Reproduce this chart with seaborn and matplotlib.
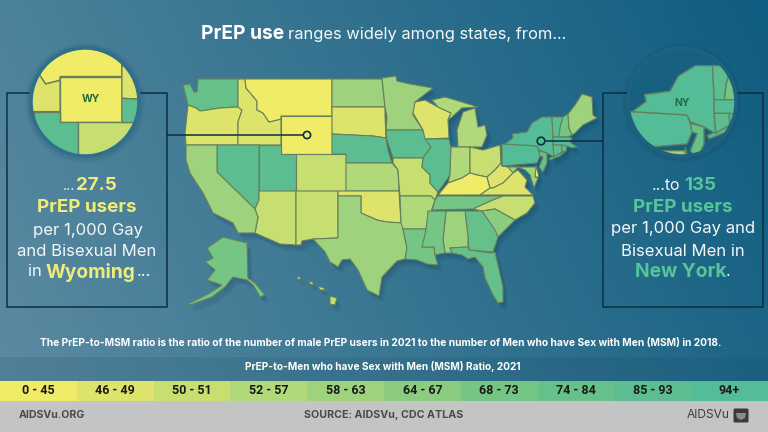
import matplotlib
matplotlib.use('Agg')
import matplotlib.pyplot as plt
import numpy as np
import seaborn as sns
from matplotlib.colors import LinearSegmentedColormap, ListedColormap
from matplotlib.patches import Circle, FancyBboxPatch, Polygon, Rectangle

sns.set_theme(style='white')
plt.rcParams['font.family'] = ['Inter', 'DejaVu Sans']

# legend bins
bin_labels = ['0 - 45', '46 - 49', '50 - 51', '52 - 57', '58 - 63', '64 - 67', '68 - 73', '74 - 84', '85 - 93', '94+']
bin_colors = ['#F1EC68', '#DDE36B', '#C7DE70', '#B1D979', '#9FD27D', '#8BCC80', '#75C585', '#66C08A', '#5CBE90', '#54BC96']

# state outlines, pixel positions
WA = [(183,85),(190,84),(194,92),(197,92),(198,79),(238,79),(238,107),(220,108),(200,111),(196,108),(188,105),(185,93)]
OR = [(188,105),(196,108),(200,111),(220,108),(238,107),(242,110),(238,122),(238,145),(186,145),(185,133)]
ID = [(238,79),(245,79),(246,88),(257,101),(257,110),(263,113),(269,122),(281,119),(281,145),(238,145),(238,122),(242,110),(238,107)]
MT = [(245,79),(332,79),(332,116),(281,116),(281,119),(269,122),(263,113),(257,110),(257,101),(246,88)]
WY = [(281,116),(332,116),(332,154),(281,154)]
NV = [(217,145),(259,145),(259,200),(255,209),(217,172)]
UT = [(259,145),(281,145),(281,154),(296,154),(296,191),(259,191)]
CO = [(296,154),(346,154),(346,191),(296,191)]
AZ = [(259,191),(296,191),(296,245),(280,244),(255,233),(258,217),(255,209),(259,200)]
NM = [(296,191),(338,191),(338,238),(313,239),(302,241),(301,245),(296,245)]
CA = [(186,145),(217,145),(217,172),(255,209),(258,217),(255,233),(238,233),(233,223),(213,213),(203,193),(190,173),(186,160)]
ND = [(332,79),(382,79),(385,107),(332,107)]
SD = [(332,107),(385,107),(385,115),(386,138),(373,136),(332,134)]
NE = [(332,134),(373,136),(386,138),(388,150),(392,163),(346,163),(346,154),(332,154)]
KS = [(346,163),(392,163),(398,170),(399,191),(346,191)]
OK = [(338,191),(399,191),(401,223),(387,222),(377,220),(361,213),(361,196),(338,196)]
TX = [(338,196),(361,196),(361,213),(377,220),(387,222),(403,223),(403,229),(407,248),(405,259),(397,261),(382,277),(379,296),(367,290),(358,270),(350,259),(342,260),(338,267),(330,262),(325,252),(313,239),(338,238)]
MN = [(382,78),(396,76),(397,81),(410,84),(433,88),(415,102),(413,115),(423,130),(386,130),(387,117),(385,107)]
IA = [(386,130),(423,130),(431,147),(423,158),(393,158),(387,140)]
MO = [(393,158),(423,158),(422,167),(430,175),(430,183),(438,192),(435,200),(431,196),(400,196),(399,185),(398,170),(393,163)]
AR = [(400,196),(431,196),(435,200),(430,215),(426,229),(403,229),(401,223)]
LA = [(403,229),(426,229),(426,240),(422,247),(434,247),(435,255),(438,265),(427,264),(417,260),(405,259),(407,248)]
WI = [(415,102),(425,100),(438,107),(451,113),(448,120),(449,138),(425,139),(423,130),(413,113)]
IL = [(425,139),(449,139),(451,148),(450,175),(443,185),(438,192),(430,183),(430,175),(422,167),(423,158),(431,147)]
MI = [(458,147),(457,130),(463,112),(475,108),(478,127),(485,125),(487,135),(482,147)]
MI_UP = [(432,100),(445,97),(462,102),(478,107),(462,108),(452,117),(448,120),(451,113),(438,107)]
IN = [(451,147),(470,147),(470,173),(462,178),(448,183),(450,175)]
OH = [(470,147),(483,150),(500,145),(501,163),(495,170),(487,177),(477,175),(470,173)]
KY = [(438,195),(448,183),(462,178),(470,173),(477,175),(487,177),(490,188),(480,195)]
WV = [(487,177),(495,170),(501,163),(502,166),(508,167),(518,167),(513,173),(503,183),(493,188),(490,188)]
VA = [(480,195),(490,188),(493,188),(503,183),(513,173),(518,170),(527,180),(525,187),(533,195)]
TN = [(438,196),(503,196),(493,200),(473,209),(432,210),(435,200)]
NC = [(503,196),(533,196),(535,203),(527,213),(515,220),(495,209),(482,211),(473,209),(493,200)]
SC = [(482,211),(495,209),(515,220),(498,237)]
GA = [(465,211),(482,211),(495,230),(498,237),(493,252),(469,250),(468,237)]
AL = [(446,211),(465,211),(468,237),(468,247),(450,248),(452,253),(445,253),(443,240)]
MS = [(428,211),(446,211),(443,240),(445,253),(435,255),(434,247),(422,247),(426,230)]
FL = [(450,248),(468,247),(469,250),(492,253),(495,252),(503,287),(503,302),(498,303),(493,295),(485,278),(483,267),(475,257),(468,259),(462,255),(452,253)]
PA = [(502,144),(505,144),(537,146),(539,151),(540,156),(537,163),(502,166)]
NY = [(505,144),(513,138),(512,134),(527,132),(532,123),(542,117),(552,117),(553,137),(553,145),(554,157),(547,153),(539,150),(537,146)]
LONG_ISLAND = [(549,158),(566,151),(560,156),(550,160)]
VT = [(552,117),(563,117),(560,128),(559,137),(553,137)]
NH = [(563,117),(568,114),(569,128),(572,135),(568,137),(559,137),(560,128)]
ME = [(568,114),(575,105),(582,94),(592,97),(593,115),(597,118),(583,125),(575,133),(572,135),(569,128)]
MA = [(553,137),(568,137),(572,138),(570,142),(577,147),(572,148),(567,146),(553,145)]
CT = [(553,145),(562,145),(562,152),(555,156),(554,157)]
RI = [(562,145),(567,146),(566,151),(562,152)]
NJ = [(539,151),(547,153),(547,163),(543,172),(539,167),(543,157),(540,156)]
DE = [(536,165),(539,177),(535,177)]
MD = [(508,167),(536,167),(535,177),(538,178),(534,188),(530,175),(525,170),(518,167),(513,173)]
AK = [(223,237),(247,243),(248,278),(255,283),(265,295),(260,297),(253,285),(247,280),(233,277),(225,287),(212,297),(190,305),(188,304),(210,293),(222,285),(207,280),(215,270),(205,262),(213,258),(207,248)]
HI = [(330,296),(337,298),(335,305),(330,304)]
HI_MAUI = [(310,281),(314,283),(312,285),(309,283)]
HI_OAHU = [(298,276),(301,278),(299,280),(297,278)]
HI_MOLOKAI = [(318,286),(324,288),(326,290),(320,290)]

state_shapes = [WA, OR, ID, MT, WY, NV, UT, CO, AZ, NM, CA, ND, SD, NE, KS, OK, TX, MN, IA, MO, AR, LA, WI, IL, MI, MI_UP, IN, OH, KY, WV, VA, TN, NC, SC, GA, AL, MS, FL, PA, NY, LONG_ISLAND, VT, NH, ME, MA, CT, RI, NJ, DE, MD, AK, HI, HI_MAUI, HI_OAHU, HI_MOLOKAI]
state_bins = [7, 1, 1, 0, 0, 8, 8, 2, 2, 2, 4, 4, 1, 8, 3, 1, 4, 4, 8, 2, 3, 6, 1, 8, 3, 3, 3, 2, 0, 1, 1, 6, 2, 5, 7, 4, 6, 7, 9, 9, 9, 8, 6, 4, 9, 8, 8, 7, 0, 4, 6, 2, 2, 2, 2]

palette = sns.color_palette(bin_colors)

fig = plt.figure(figsize=(7.68, 4.32), dpi=100)
ax = fig.add_axes([0, 0, 1, 1])
ax.set_xlim(0, 768)
ax.set_ylim(432, 0)
ax.axis('off')

# background gradient
xx, yy = np.meshgrid(np.linspace(0, 1, 200), np.linspace(0, 1, 120))
grad = 0.8 * xx + 0.2 * (1 - yy)
bg_map = LinearSegmentedColormap.from_list('bg', ['#5C8BA1', '#0F5D80'])
ax.imshow(grad, extent=(0, 768, 401, 0), cmap=bg_map, vmin=0, vmax=1, aspect='auto', zorder=0)
ax.add_patch(Rectangle((0, 357), 768, 24, fc='#0B3A55', alpha=0.12, lw=0, zorder=1))
ax.add_patch(Rectangle((0, 401), 768, 31, fc='#C4C4C4', lw=0, zorder=1))

edge = '#66805E'


def draw_states(sx=1.0, sy=1.0, x0=0, y0=0, cx=0, cy=0, clip=None, lw=0.8, z=3):
    for shape, b in zip(state_shapes, state_bins):
        pts = [(cx + (x - x0) * sx, cy + (y - y0) * sy) for x, y in shape]
        p = Polygon(pts, closed=True, fc=palette[b], ec=edge, lw=lw, zorder=z, joinstyle='round')
        ax.add_patch(p)
        if clip is not None:
            p.set_clip_path(clip)


# soft shadow under the map
for off in [7, 6, 5, 4, 3, 2]:
    for shape in state_shapes:
        pts = [(x + off * 0.7, y + off) for x, y in shape]
        ax.add_patch(Polygon(pts, closed=True, fc='#0A2E45', ec='none', alpha=0.04, zorder=2))
draw_states()

# panels and leader lines
dark = '#0C2F43'
ax.add_patch(Rectangle((7, 93), 160, 214, fc='none', ec=dark, lw=1.1, zorder=4))
ax.add_patch(Rectangle((603, 93), 160, 214, fc='none', ec=dark, lw=1.1, zorder=4))
ax.plot([167, 304], [135, 135], color=dark, lw=1.1, zorder=5)
ax.plot([545, 603], [141, 141], color=dark, lw=1.1, zorder=5)
ax.add_patch(Circle((307, 135), 3.6, fc=bin_colors[0], ec=dark, lw=1.2, zorder=6))
ax.add_patch(Circle((541, 141), 3.8, fc=bin_colors[9], ec=dark, lw=1.2, zorder=6))

# magnified circles
for cx_, fill in [(85, '#3F7793'), (682, '#17607F')]:
    for r, a in [(60, 0.05), (58, 0.07)]:
        ax.add_patch(Circle((cx_, 103), r, fc='#0A2E45', ec='none', alpha=a, zorder=6))
    ax.add_patch(Circle((cx_, 102), 56, fc=fill, ec='none', zorder=7))

wy_clip = Circle((85, 102), 53, transform=ax.transData)
draw_states(1.21, 1.21, 306.5, 135, 91, 99.5, clip=wy_clip, lw=1.0, z=8)
ny_clip = Circle((682, 102), 53, transform=ax.transData)
draw_states(1.7, 1.7, 537, 146, 687, 115, clip=ny_clip, lw=1.0, z=8)
ax.add_patch(Circle((85, 102), 54, fc='none', ec='#2F6F8C', lw=2.5, zorder=9))
ax.add_patch(Circle((682, 102), 54, fc='none', ec='#20617F', lw=2.5, zorder=9))
ax.text(91, 99, 'WY', ha='center', va='center', fontsize=7.5, fontweight='bold', color='#1F6B3E', zorder=10)
ax.text(682, 103, 'NY', ha='center', va='center', fontsize=7.5, fontweight='bold', color='#1F6B3E', zorder=10)

# title
white = '#F4F7F8'
ax.text(201, 34, 'PrEP use', ha='left', va='center', fontsize=13.8, fontweight='bold', color='white', zorder=10)
ax.text(288, 34, 'ranges widely among states, from...', ha='left', va='center', fontsize=11.9, color=white, zorder=10)

# side text
yellow = '#F1EC7A'
green = '#55C59A'
ax.text(63, 186, '...', ha='left', va='center', fontsize=10, color=white, zorder=10)
ax.text(76, 186, '27.5', ha='left', va='center', fontsize=13.5, fontweight='bold', color=yellow, zorder=10)
ax.text(87, 207, 'PrEP users', ha='center', va='center', fontsize=13.5, fontweight='bold', color=yellow, zorder=10)
ax.text(88, 230, 'per 1,000 Gay', ha='center', va='center', fontsize=12, color=white, zorder=10)
ax.text(87, 251, 'and Bisexual Men', ha='center', va='center', fontsize=12, color=white, zorder=10)
ax.text(28, 272, 'in', ha='left', va='center', fontsize=12, color=white, zorder=10)
ax.text(46, 272, 'Wyoming', ha='left', va='center', fontsize=13.8, fontweight='bold', color=yellow, zorder=10)
ax.text(137, 272, '...', ha='left', va='center', fontsize=12, color=white, zorder=10)

ax.text(652, 185, '...to', ha='left', va='center', fontsize=11.5, color=white, zorder=10)
ax.text(684, 185, '135', ha='left', va='center', fontsize=13.5, fontweight='bold', color=green, zorder=10)
ax.text(683, 207, 'PrEP users', ha='center', va='center', fontsize=13.5, fontweight='bold', color=green, zorder=10)
ax.text(683, 229, 'per 1,000 Gay and', ha='center', va='center', fontsize=12, color=white, zorder=10)
ax.text(683, 251, 'Bisexual Men in', ha='center', va='center', fontsize=12, color=white, zorder=10)
ax.text(681, 272, 'New York', ha='center', va='center', fontsize=13.8, fontweight='bold', color=green, zorder=10)
ax.text(726, 272, '.', ha='left', va='center', fontsize=11.5, color=white, zorder=10)

# notes above the legend
ax.text(381, 343, 'The PrEP-to-MSM ratio is the ratio of the number of male PrEP users in 2021 to the number of Men who have Sex with Men (MSM) in 2018.',
        ha='center', va='center', fontsize=7.35, fontweight='bold', color='white', zorder=10)
ax.text(383, 367, 'PrEP-to-Men who have Sex with Men (MSM) Ratio, 2021', ha='center', va='center',
        fontsize=7.3, fontweight='bold', color='white', zorder=10)

# legend strip
leg_ax = fig.add_axes([0, 1 - 401 / 432, 1, 20 / 432])
sns.heatmap(np.arange(10).reshape(1, 10), ax=leg_ax, cmap=ListedColormap(bin_colors), cbar=False,
            annot=np.array(bin_labels).reshape(1, 10), fmt='', xticklabels=False, yticklabels=False,
            annot_kws={'fontsize': 9, 'fontweight': 'bold', 'color': '#1A1A1A', 'family': 'Roboto'})

# footer
ax.text(19, 415, 'AIDSVu.ORG', ha='left', va='center', fontsize=7.6, fontweight='bold', color='#4A4A4A', zorder=10)
ax.text(384, 415, 'SOURCE: AIDSVu, CDC ATLAS', ha='center', va='center', fontsize=7.7, fontweight='bold', color='#4A4A4A', zorder=10)
ax.text(730, 415, 'AIDSVu', ha='right', va='center', fontsize=8.6, color='#3F3F3F', zorder=10)
ax.add_patch(FancyBboxPatch((735, 410), 12, 11, boxstyle='round,pad=1.5', fc='#3A3A3A', ec='none', zorder=10))
ax.add_patch(Polygon([(736, 413), (746, 413), (745, 418), (741, 420), (737, 418)], fc='#C4C4C4', ec='none', alpha=0.6, zorder=11))

fig.savefig('out.png', dpi=100)
